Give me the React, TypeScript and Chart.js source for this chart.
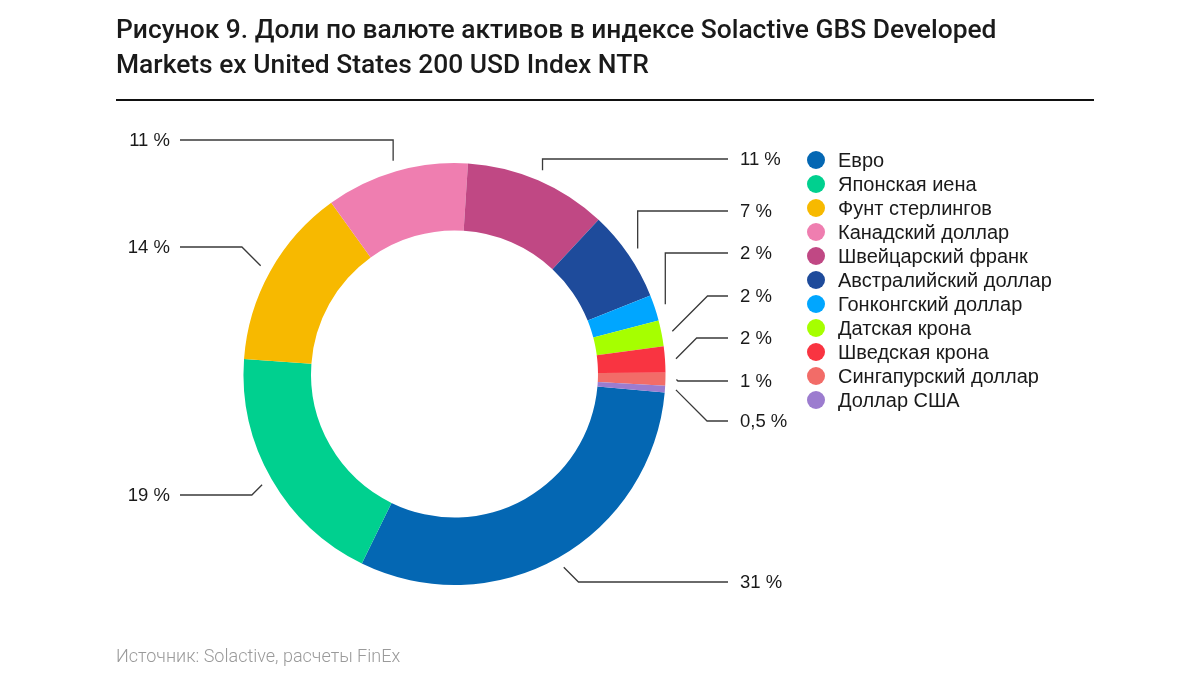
import React, { useEffect, useRef } from "react";
import { Chart, registerables } from "chart.js";

Chart.register(...registerables);

const titleLines = [
  "Рисунок 9. Доли по валюте активов в индексе Solactive GBS Developed",
  "Markets ex United States 200 USD Index NTR",
];
const sourceText = "Источник: Solactive, расчеты FinEx";

const currencies = [
  "Евро",
  "Японская иена",
  "Фунт стерлингов",
  "Канадский доллар",
  "Швейцарский франк",
  "Австралийский доллар",
  "Гонконгский доллар",
  "Датская крона",
  "Шведская крона",
  "Сингапурский доллар",
  "Доллар США",
];
const shares = [31, 19, 14, 11, 11, 7, 2, 2, 2, 1, 0.5];
const colors = [
  "#0467B3",
  "#00D08F",
  "#F7B900",
  "#EF7EB0",
  "#C04884",
  "#1E4B9B",
  "#00A6FF",
  "#A6FF00",
  "#F93441",
  "#F26C68",
  "#9C7CCF",
];

// label layout (annotation positions, not data)
const labelSide = ["right", "left", "left", "left", "right", "right", "right", "right", "right", "right", "right"];
const labelY = [582, 495, 247, 140, 159, 211, 253, 296, 338, 381, 421];
const elbowType = ["d", "d", "d", "v", "v", "v", "v", "d", "d", "d", "d"];

const fmt = (v: number) => String(v).replace(".", ",") + " %";

const leaderPlugin = {
  id: "leaders",
  afterDraw(chart: any) {
    const ctx = chart.ctx;
    const meta = chart.getDatasetMeta(0);
    ctx.save();
    meta.data.forEach((arc: any, i: number) => {
      const p = arc.getProps(["x", "y", "startAngle", "endAngle", "outerRadius"], true);
      const mid = (p.startAngle + p.endAngle) / 2;
      const r = p.outerRadius + 11;
      const ax = p.x + Math.cos(mid) * r;
      const ay = p.y + Math.sin(mid) * r;
      const right = labelSide[i] === "right";
      const ly = labelY[i];
      let ex = ax;
      if (elbowType[i] === "d") {
        ex = ax + (right ? 1 : -1) * Math.abs(ly - ay);
      }
      const endX = right ? 728 : 180;
      ctx.strokeStyle = "#3a3a3a";
      ctx.lineWidth = 1.3;
      ctx.beginPath();
      ctx.moveTo(ax, ay);
      ctx.lineTo(ex, ly);
      ctx.lineTo(endX, ly);
      ctx.stroke();
      ctx.fillStyle = "#1a1a1a";
      ctx.font = "18.5px 'Liberation Sans', Arial, sans-serif";
      ctx.textBaseline = "middle";
      ctx.textAlign = right ? "left" : "right";
      ctx.fillText(fmt(shares[i]), right ? 740 : 170, ly + 1);
    });
    currencies.forEach((name, i) => {
      const y = 160 + i * 24;
      ctx.fillStyle = colors[i];
      ctx.beginPath();
      ctx.arc(816, y, 9, 0, Math.PI * 2);
      ctx.fill();
      ctx.fillStyle = "#1a1a1a";
      ctx.font = "20px 'Liberation Sans', Arial, sans-serif";
      ctx.textAlign = "left";
      ctx.textBaseline = "middle";
      ctx.fillText(name, 838, y + 1);
    });
    ctx.restore();
  },
};

export default function App() {
  const ref = useRef<HTMLCanvasElement | null>(null);
  useEffect(() => {
    if (!ref.current) return;
    const chart = new Chart(ref.current, {
      type: "doughnut",
      data: {
        labels: currencies,
        datasets: [
          {
            data: shares,
            backgroundColor: colors,
            borderWidth: 0,
            hoverOffset: 0,
            offset: 0,
          },
        ],
      },
      options: {
        responsive: false,
        animation: false,
        devicePixelRatio: 1,
        events: [],
        rotation: 95,
        cutout: "68%",
        layout: { padding: { left: 243.5, right: 534.5, top: 163, bottom: 90 } },
        plugins: { legend: { display: false }, tooltip: { enabled: false } },
      },
      plugins: [leaderPlugin],
    } as any);
    return () => chart.destroy();
  }, []);

  return (
    <div style={{ position: "absolute", left: 0, top: 0, width: 1200, height: 675, background: "#fff", overflow: "hidden" }}>
      <canvas ref={ref} width={1200} height={675} style={{ position: "absolute", left: 0, top: 0 }} />
      <div
        style={{
          position: "absolute",
          left: 116,
          top: 12,
          fontFamily: "Roboto, sans-serif",
          fontWeight: 500,
          fontSize: 26.4,
          lineHeight: "35px",
          color: "#1a1a1a",
          whiteSpace: "nowrap",
        }}
      >
        {titleLines[0]}
        <br />
        {titleLines[1]}
      </div>
      <div style={{ position: "absolute", left: 116, top: 99, width: 978, height: 2, background: "#111" }} />
      <div
        style={{
          position: "absolute",
          left: 116,
          top: 644,
          fontFamily: "Roboto, sans-serif",
          fontWeight: 300,
          fontSize: 18,
          lineHeight: "24px",
          color: "#9a9a9a",
          whiteSpace: "nowrap",
        }}
      >
        {sourceText}
      </div>
    </div>
  );
}
